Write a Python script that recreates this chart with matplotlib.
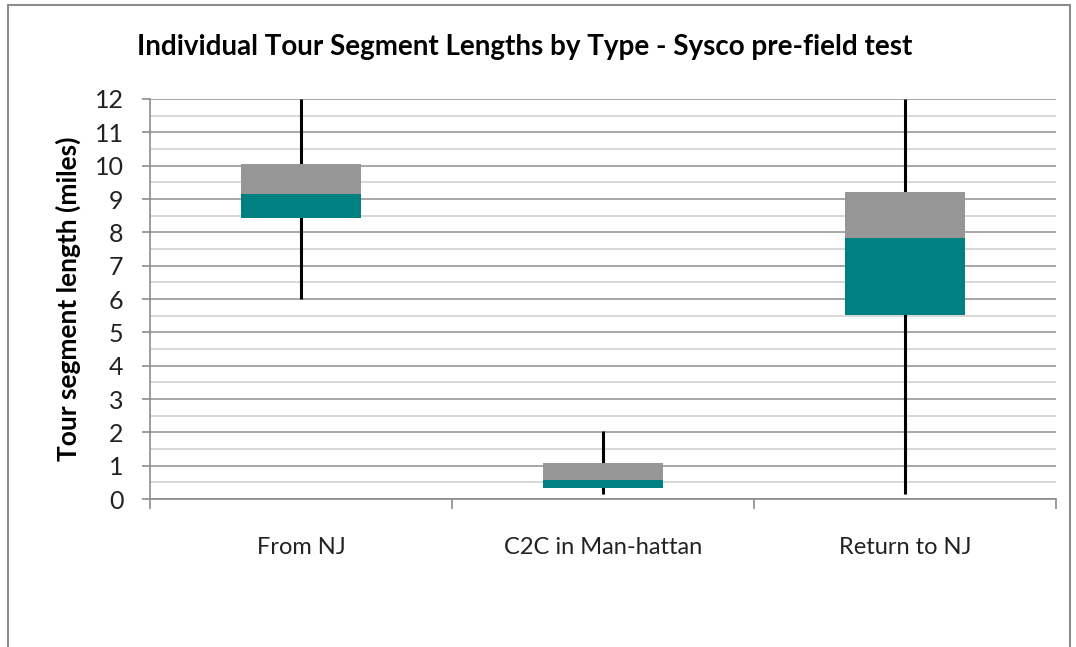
import matplotlib.pyplot as plt
from matplotlib.patches import Rectangle
import numpy as np

categories = ['From NJ', 'C2C in Man-hattan', 'Return to NJ']
whisker_min = [6.0, 0.15, 0.15]
q1 = [8.42, 0.32, 5.52]
median = [9.16, 0.56, 7.82]
q3 = [10.05, 1.07, 9.22]
whisker_max = [12.0, 2.05, 12.0]

plt.rcParams['font.family'] = ['Lato', 'DejaVu Sans']

fig = plt.figure(figsize=(10.76, 6.47), dpi=100)
ax = fig.add_axes([0.1394, 0.2287, 0.8420, 0.6183])

# chart border
fig.patches.append(Rectangle((8 / 1076, -0.05), 1062 / 1076, 1 - 5 / 647 + 0.05,
                             transform=fig.transFigure, fill=False,
                             edgecolor='#8c8c8c', linewidth=1.5))

x = np.arange(len(categories))
lower = np.array(median) - np.array(q1)
upper = np.array(q3) - np.array(median)

ax.vlines(x, whisker_min, whisker_max, color='black', linewidth=2.2, zorder=2)
ax.bar(x, lower, bottom=q1, width=0.4, color='#008080', zorder=3)
ax.bar(x, upper, bottom=median, width=0.4, color='#969696', zorder=3)

ax.set_xlim(-0.5, 2.5)
ax.set_ylim(0, 12)
ax.set_yticks(range(0, 13))
ax.set_yticks(np.arange(0.5, 12, 1), minor=True)
ax.grid(axis='y', which='major', color='#a0a0a0', linewidth=1.3, zorder=0)
ax.grid(axis='y', which='minor', color='#d4d4d4', linewidth=1.3, zorder=0)
ax.set_axisbelow(True)

ax.set_xticks([-0.5, 0.5, 1.5, 2.5])
ax.set_xticklabels([])
ax.set_xticks(x, minor=True)
ax.set_xticklabels(categories, minor=True, fontsize=17, color='#222222')
ax.tick_params(axis='x', which='major', direction='out', length=7, color='#8c8c8c', width=1.2)
ax.tick_params(axis='x', which='minor', length=0, pad=27)
ax.tick_params(axis='y', which='major', direction='out', length=6, color='#8c8c8c',
               width=1.2, labelsize=18, pad=13, labelcolor='#222222')
ax.tick_params(axis='y', which='minor', length=0)

for side in ['top', 'right']:
    ax.spines[side].set_visible(False)
for side in ['left', 'bottom']:
    ax.spines[side].set_color('#8c8c8c')
    ax.spines[side].set_linewidth(1.2)

ax.set_ylabel('Tour segment length (miles)', fontsize=19, fontweight='bold', labelpad=10)
fig.text(137 / 1076, 1 - 47 / 647, 'Individual Tour Segment Lengths by Type - Sysco pre-field test',
         fontsize=20, fontweight='bold', ha='left', va='center')

fig.savefig('out.png', dpi=100)
